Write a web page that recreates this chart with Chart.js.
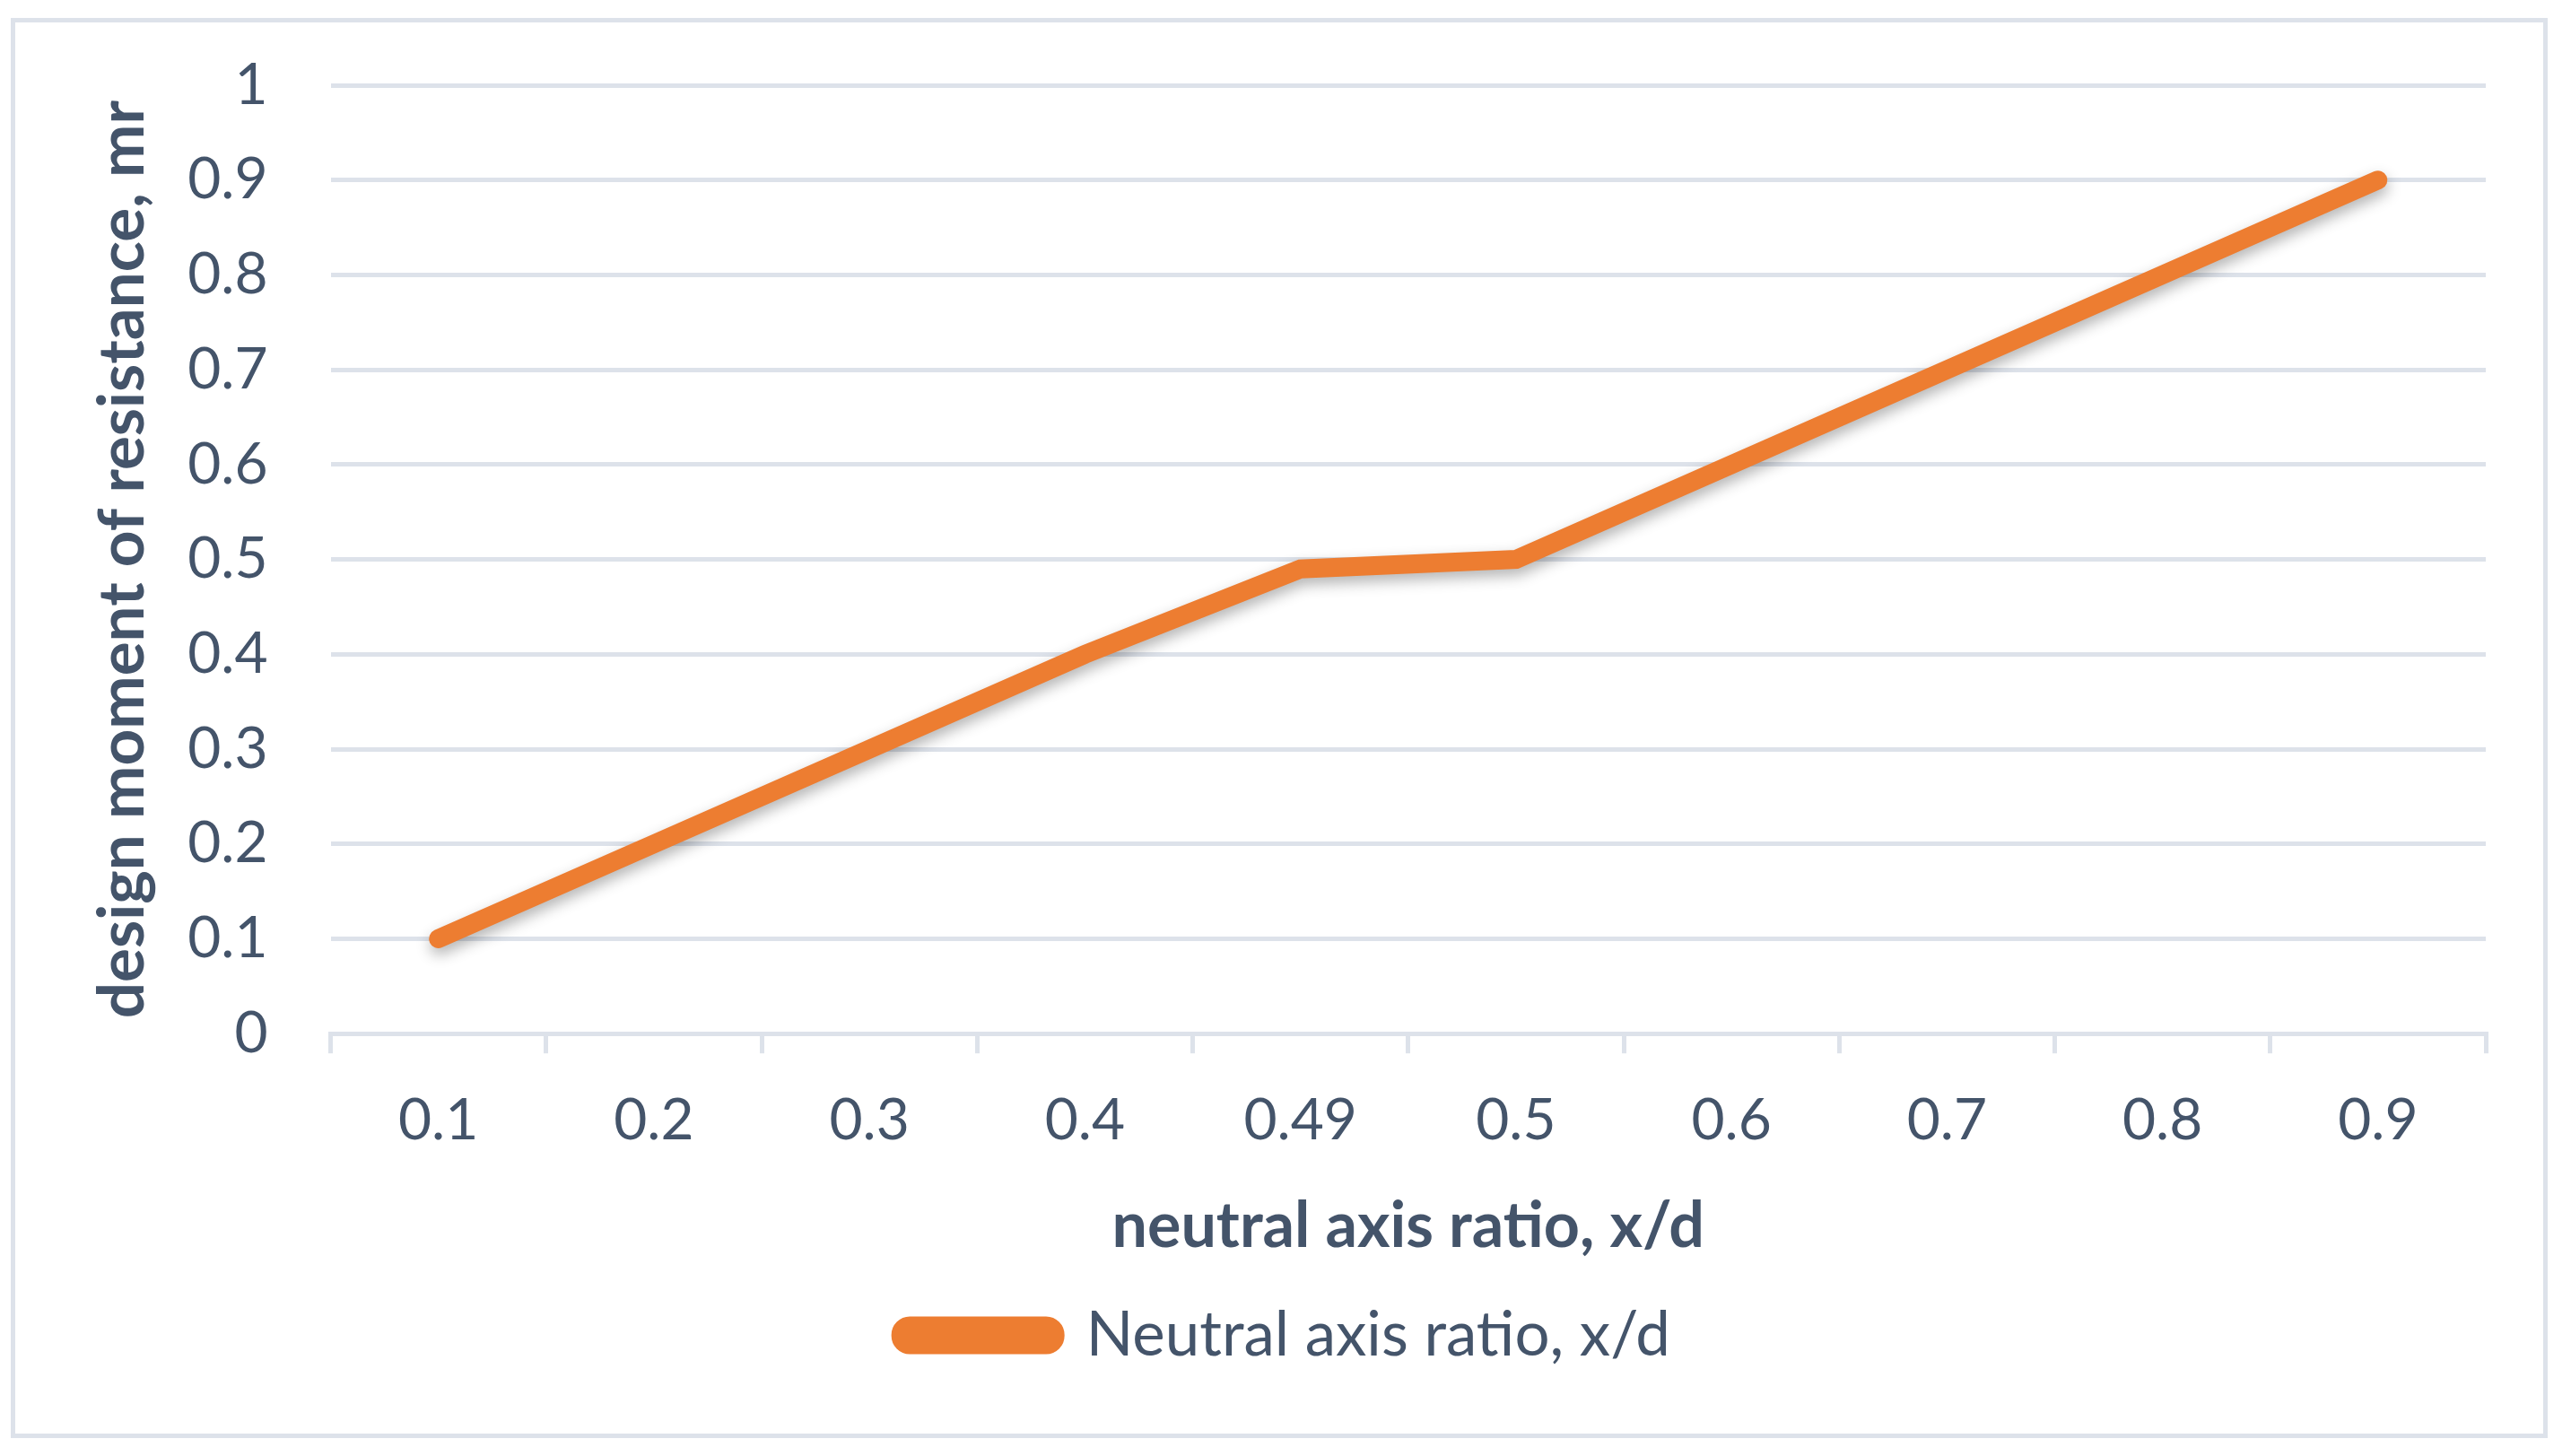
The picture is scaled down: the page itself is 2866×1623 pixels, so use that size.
<!DOCTYPE html>
<html>
<head>
<meta charset="utf-8">
<script src="https://cdn.jsdelivr.net/npm/chart.js@4"></script>
<style>
  body { margin: 0; background: #fff; }
  #frame {
    position: absolute; left: 12px; top: 20px;
    width: 2828px; height: 1583px;
    border: 5px solid #dde2ea; box-sizing: border-box;
  }
  #box {
    position: absolute; left: 17px; top: 10px;
    width: 2816px; height: 1588px;
  }
</style>
</head>
<body>
<div id="frame"></div>
<div id="box"><canvas id="chart"></canvas></div>
<script>
// values
var categories = ["0.1", "0.2", "0.3", "0.4", "0.49", "0.5", "0.6", "0.7", "0.8", "0.9"];
var seriesValues = [0.1, 0.2, 0.3, 0.4, 0.49, 0.5, 0.6, 0.7, 0.8, 0.9];
var yTickLabels = ["0", "0.1", "0.2", "0.3", "0.4", "0.5", "0.6", "0.7", "0.8", "0.9", "1"];
var seriesName = "Neutral axis ratio, x/d";
var xTitle = "neutral axis ratio, x/d";
var yTitle = "design moment of resistance, mr";

var textColor = "#44546A";
var gridColor = "#dde2ea";
var lineColor = "#ED7D31";
var fontFamily = "Lato, 'Open Sans', sans-serif";

// soft drop shadow under the line
var lineShadow = {
    id: "lineShadow",
    beforeDatasetsDraw: function(chart) {
        var ctx = chart.ctx;
        ctx.save();
        ctx.shadowColor = "rgba(0,0,0,0.3)";
        ctx.shadowBlur = 16;
        ctx.shadowOffsetX = 1;
        ctx.shadowOffsetY = 7;
    },
    afterDatasetsDraw: function(chart) {
        chart.ctx.restore();
    }
};

var ctx = document.getElementById("chart").getContext("2d");
var chart = new Chart(ctx, {
    type: "line",
    data: {
        labels: categories,
        datasets: [{
            label: seriesName,
            data: seriesValues,
            borderColor: lineColor,
            backgroundColor: lineColor,
            borderWidth: 21,
            borderCapStyle: "round",
            borderJoinStyle: "miter",
            pointRadius: 0,
            tension: 0
        }]
    },
    plugins: [lineShadow],
    options: {
        responsive: true,
        maintainAspectRatio: false,
        animation: false,
        layout: { padding: { left: 78, right: 62, top: 85, bottom: 65 } },
        plugins: {
            tooltip: { enabled: false },
            legend: {
                position: "bottom",
                labels: {
                    color: textColor,
                    font: { family: fontFamily, size: 69 },
                    boxWidth: 172,
                    boxHeight: 21,
                    useBorderRadius: true,
                    borderRadius: 10,
                    padding: 20
                }
            }
        },
        scales: {
            x: {
                offset: true,
                grid: {
                    offset: true,
                    drawOnChartArea: false,
                    color: gridColor,
                    lineWidth: 5,
                    tickLength: 22
                },
                border: { color: gridColor, width: 5 },
                ticks: {
                    color: textColor,
                    font: { family: fontFamily, size: 64 },
                    padding: 37,
                    maxRotation: 0
                },
                title: {
                    display: true,
                    text: xTitle,
                    color: textColor,
                    font: { family: fontFamily, size: 70, weight: "bold" },
                    padding: { top: 0, bottom: 25 }
                }
            },
            y: {
                min: 0,
                max: 1,
                grid: {
                    color: gridColor,
                    lineWidth: 5,
                    tickLength: 60,
                    tickColor: "rgba(0,0,0,0)"
                },
                border: { display: false },
                ticks: {
                    stepSize: 0.1,
                    color: textColor,
                    font: { family: fontFamily, size: 64 },
                    padding: 10,
                    callback: function(value, index) { return yTickLabels[index]; }
                },
                title: {
                    display: true,
                    text: yTitle,
                    color: textColor,
                    font: { family: fontFamily, size: 71, weight: "bold" },
                    padding: { top: 0, bottom: 19 }
                }
            }
        }
    }
});
</script>
</body>
</html>
